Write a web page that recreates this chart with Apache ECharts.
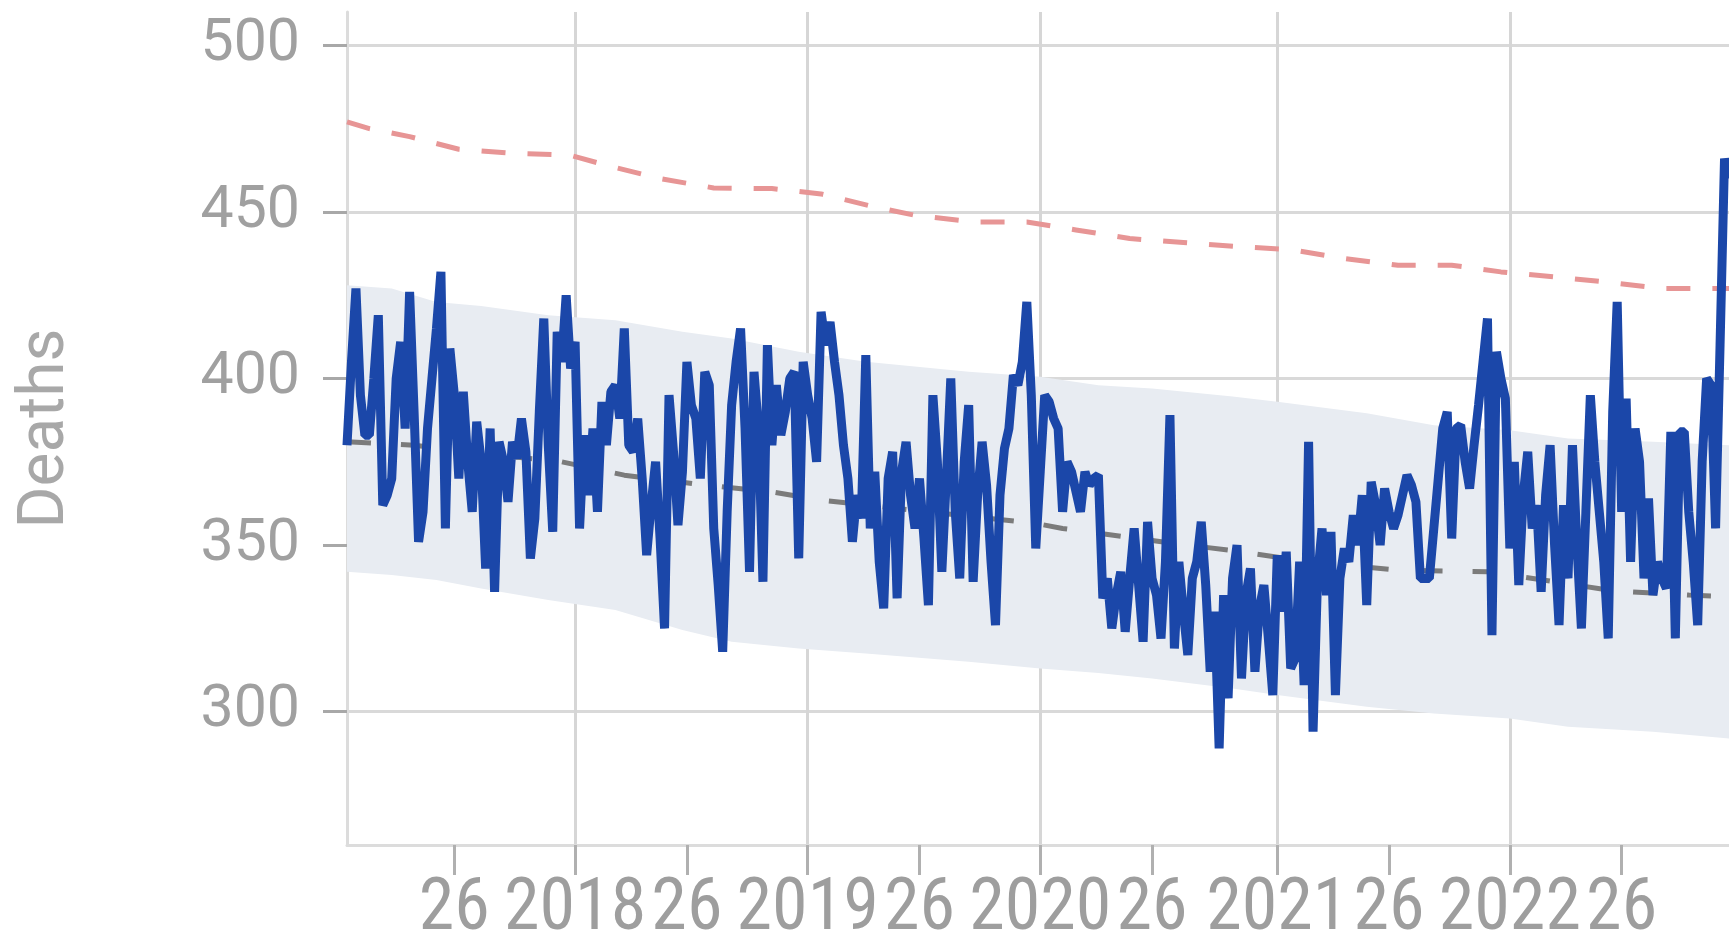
<!DOCTYPE html>
<html>
<head>
<meta charset="utf-8">
<script src="https://cdn.jsdelivr.net/npm/echarts@6/dist/echarts.min.js"></script>
<style>
  html, body { margin: 0; padding: 0; background: #ffffff; }
  #chart { width: 1729px; height: 947px; }
</style>
</head>
<body>
<div id="chart"></div>
<script>
// ---- Weeks shown: [year, first ISO week, last ISO week]
const yearWeeks = [[2017, 2, 52], [2018, 1, 52], [2019, 1, 52], [2020, 1, 53], [2021, 1, 52], [2022, 1, 50]];

// ---- Weekly deaths
const deaths2017 = [380,405,427,395,383,383,400,419,362,365,370,400,411,385,426,390,351,360,385,400,415,432,355,409,395,370,396,375,360,387,375,343,385,336,381,375,363,381,376,388,378,346,358,390,418,380,354,414,405,425,403];
const deaths2018 = [411,355,383,365,385,360,393,380,396,398,388,415,380,378,388,370,347,362,375,352,325,395,378,356,372,405,392,388,370,402,398,355,338,318,360,392,405,415,385,342,402,385,339,410,380,398,383,390,400,402,346,405];
const deaths2019 = [395,388,375,420,410,417,405,395,380,370,351,365,358,407,355,372,345,331,370,378,334,372,381,365,355,370,352,332,395,375,342,370,400,360,340,375,392,339,365,381,368,345,326,365,379,385,401,398,405,423,395,349];
const deaths2020 = [372,395,393,388,385,360,375,372,366,360,372,368,370,371,334,340,325,335,342,324,340,355,338,321,357,340,335,322,345,389,319,345,330,317,340,345,357,338,312,330,289,335,304,340,350,310,335,343,312,331,338,322,305];
const deaths2021 = [347,330,348,313,316,345,308,381,294,340,355,335,354,305,340,349,345,359,350,365,332,369,362,350,367,360,355,359,365,371,368,363,340,340,340,355,370,385,390,352,385,386,375,367,380,392,405,418,323,408,400,394];
const deaths2022 = [349,375,338,365,378,355,362,336,365,380,350,326,362,340,380,350,325,360,395,375,360,345,322,390,423,360,394,345,385,375,340,364,335,345,340,337,384,322,384,384,360,345,326,375,400,398,355,410,466,460];

// ---- Expected range (shaded band), read at a few weeks
const bandWeeks = ['2017-W02','2017-W12','2017-W22','2017-W32','2017-W47','2018-W10','2018-W25','2018-W36','2018-W51','2019-W14','2019-W37','2020-W01','2020-W14','2020-W26','2020-W44','2021-W01','2021-W21','2021-W36','2022-W01','2022-W14','2022-W33','2022-W50'];
const bandUpper = [428,427,423,421.8,419,417.5,414,412,408,405,402,400.5,398,397,394.6,393,389.6,386,384.5,382,381,380];
const bandLower = [342,341,339.5,337,333.5,330.5,324.5,321,319,317.5,315,313,311.6,310,307,305,301.5,299.5,298,295.5,294,292];

// ---- Expected deaths (grey dashed)
const expectedWeeks = ['2017-W02','2017-W17','2017-W32','2017-W50','2018-W12','2018-W30','2018-W45','2019-W04','2019-W28','2019-W52','2020-W06','2020-W31','2020-W46','2021-W08','2021-W28','2021-W48','2022-W11','2022-W24','2022-W41','2022-W50'];
const expectedValues = [381,380,377.5,375,371,368,366,363.5,360,356.5,355,350.5,348,345,342.5,342,339,336.3,335,334.5];

// ---- Upper threshold (red dashed)
const thresholdWeeks = ['2017-W02','2017-W07','2017-W16','2017-W27','2017-W39','2017-W52','2018-W08','2018-W20','2018-W32','2018-W45','2019-W04','2019-W15','2019-W25','2019-W38','2019-W50','2020-W09','2020-W21','2020-W33','2020-W45','2021-W04','2021-W16','2021-W28','2021-W40','2021-W51','2022-W11','2022-W23','2022-W35','2022-W50'];
const thresholdValues = [477,475,472.6,468.8,467.6,467,464,460,457.2,457,455.4,451.8,449,447,447,444.6,442,440.8,439.6,438.7,436,434,434,432,430.5,428.9,427,427];

// ---- Axis tick labels
const yTickValues = [300, 350, 400, 450, 500];
const yearTickWeek = 1;
const midTickWeek = 26;

// ---- Build category list and series tables
const categories = [];
yearWeeks.forEach(([y, w0, w1]) => {
  for (let w = w0; w <= w1; w++) categories.push(y + '-W' + String(w).padStart(2, '0'));
});
const deaths = [].concat(deaths2017, deaths2018, deaths2019, deaths2020, deaths2021, deaths2022);
const deathsData = categories.map((c, i) => [c, deaths[i]]);
const lowerData = bandWeeks.map((w, i) => [w, bandLower[i]]);
const spanData = bandWeeks.map((w, i) => [w, bandUpper[i] - bandLower[i]]);
const expectedData = expectedWeeks.map((w, i) => [w, expectedValues[i]]);
const thresholdData = thresholdWeeks.map((w, i) => [w, thresholdValues[i]]);

const weekOf = v => parseInt(v.slice(6), 10);
const yearOf = v => v.slice(0, 4);
const isLabelWeek = v => weekOf(v) === yearTickWeek || weekOf(v) === midTickWeek;

const chart = echarts.init(document.getElementById('chart'), null, { renderer: 'canvas' });
chart.setOption({
  animation: false,
  backgroundColor: '#ffffff',
  grid: { left: 347, right: 0, top: 12, bottom: 94, containLabel: false },
  xAxis: {
    type: 'category',
    data: categories,
    boundaryGap: false,
    axisLine: { show: true, lineStyle: { color: '#dcdcdc', width: 3 } },
    axisTick: {
      show: true, length: 30, interval: (i, v) => isLabelWeek(v),
      lineStyle: { color: '#b0b0b0', width: 3 }
    },
    axisLabel: {
      interval: (i, v) => isLabelWeek(v),
      formatter: v => weekOf(v) === yearTickWeek ? yearOf(v) : String(midTickWeek),
      color: '#9e9e9e', fontSize: 72, margin: 30,
      fontFamily: "'Liberation Sans Narrow', 'Roboto Condensed', 'DejaVu Sans Condensed', Roboto, sans-serif"
    },
    splitLine: {
      show: true, interval: (i, v) => weekOf(v) === yearTickWeek,
      lineStyle: { color: '#d6d6d6', width: 3 }
    }
  },
  yAxis: {
    type: 'value',
    min: 260, max: 510,
    name: 'Deaths',
    nameLocation: 'middle',
    nameGap: 268,
    nameTextStyle: { color: '#a8a8a8', fontSize: 64, fontFamily: 'Roboto, sans-serif' },
    axisLine: { show: true, lineStyle: { color: '#dcdcdc', width: 3 } },
    axisTick: { show: true, length: 24, customValues: yTickValues, lineStyle: { color: '#a8a8a8', width: 3 } },
    axisLabel: { customValues: yTickValues, color: '#a0a0a0', fontSize: 59, margin: 47, fontFamily: 'Roboto, sans-serif' },
    splitLine: { show: true, lineStyle: { color: '#d9d9d9', width: 3 } }
  },
  series: [
    {
      name: 'lower', type: 'line', data: lowerData, stack: 'band', symbol: 'none',
      lineStyle: { opacity: 0 }, silent: true, z: 1
    },
    {
      name: 'band', type: 'line', data: spanData, stack: 'band', symbol: 'none',
      lineStyle: { opacity: 0 }, areaStyle: { color: '#e8ecf2', opacity: 1 }, silent: true, z: 1
    },
    {
      name: 'expected', type: 'line', data: expectedData, symbol: 'none',
      lineStyle: { color: '#7b7b7b', width: 5, type: [24, 30] }, z: 2
    },
    {
      name: 'threshold', type: 'line', data: thresholdData, symbol: 'none',
      lineStyle: { color: '#e79595', width: 5, type: [24, 22] }, z: 3
    },
    {
      name: 'deaths', type: 'line', data: deathsData, symbol: 'none',
      lineStyle: { color: '#1b47a9', width: 9, join: 'bevel', cap: 'butt' }, z: 4
    }
  ]
});
</script>
</body>
</html>
